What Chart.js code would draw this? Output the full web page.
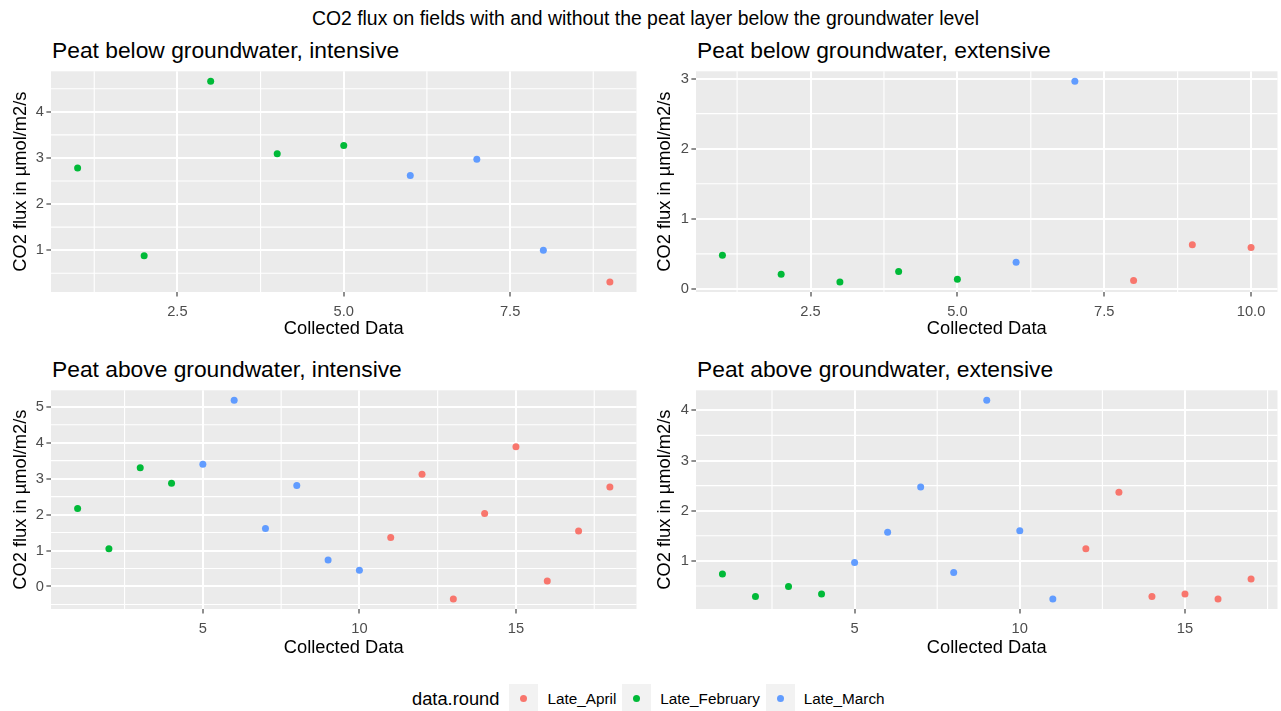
<!DOCTYPE html>
<html>
<head>
<meta charset="utf-8">
<title>CO2 flux</title>
<script src="https://cdn.jsdelivr.net/npm/chart.js@4.4.1/dist/chart.umd.min.js"></script>
<style>
  html, body { margin: 0; padding: 0; background: #fff; }
  body { width: 1281px; height: 711px; position: relative; overflow: hidden;
         font-family: "Liberation Sans", Arial, sans-serif; color: #000; }
  canvas { position: absolute; }
  .main-title { position: absolute; left: 5px; width: 1281px; top: 7px; text-align: center;
                font-size: 19.4px; line-height: 22px; white-space: nowrap; }
  .panel-title { position: absolute; font-size: 22.8px; line-height: 26px; white-space: nowrap; }
  .legend { position: absolute; left: 412px; top: 684px; height: 29px; display: flex; align-items: center; }
  .legend .ttl { font-size: 18.3px; margin-right: 10px; }
  .legend .key { width: 29px; height: 29px; background: #F2F2F2; position: relative; }
  .legend .key i { position: absolute; left: 11px; top: 11px; width: 7px; height: 7px; border-radius: 50%; }
  .legend .lab { font-size: 15.3px; margin-left: 9px; margin-right: 6px; }
</style>
</head>
<body>
<div class="main-title">CO2 flux on fields with and without the peat layer below the groundwater level</div>
<div class="panel-title" style="left:52px;top:37px">Peat below groundwater, intensive</div>
<div class="panel-title" style="left:697px;top:37px">Peat below groundwater, extensive</div>
<div class="panel-title" style="left:52px;top:356px">Peat above groundwater, intensive</div>
<div class="panel-title" style="left:697px;top:356px">Peat above groundwater, extensive</div>
<canvas id="belowIntensive" width="640" height="290" style="left:0;top:60px"></canvas>
<canvas id="belowExtensive" width="641" height="290" style="left:640px;top:60px"></canvas>
<canvas id="aboveIntensive" width="640" height="290" style="left:0;top:379px"></canvas>
<canvas id="aboveExtensive" width="641" height="290" style="left:640px;top:379px"></canvas>
<div class="legend" id="legend"></div>
<script>
// sampling rounds and their ggplot hue colours
const roundNames = ['Late_April', 'Late_February', 'Late_March'];
const roundColors = ['#F8766D', '#00BA38', '#619CFF'];

// Peat below groundwater, intensive
const belowIntensiveFlux = [2.78, 0.88, 4.66, 3.09, 3.27, 2.62, 2.97, 1.00, 0.31];
const belowIntensiveRound = ['Late_February', 'Late_February', 'Late_February', 'Late_February', 'Late_February',
  'Late_March', 'Late_March', 'Late_March', 'Late_April'];
const belowIntensiveXTicks = [2.5, 5, 7.5];
const belowIntensiveYTicks = [1, 2, 3, 4];

// Peat below groundwater, extensive
const belowExtensiveFlux = [0.48, 0.21, 0.10, 0.25, 0.14, 0.38, 2.96, 0.12, 0.63, 0.59];
const belowExtensiveRound = ['Late_February', 'Late_February', 'Late_February', 'Late_February', 'Late_February',
  'Late_March', 'Late_March', 'Late_April', 'Late_April', 'Late_April'];
const belowExtensiveXTicks = [2.5, 5, 7.5, 10];
const belowExtensiveYTicks = [0, 1, 2, 3];

// Peat above groundwater, intensive
const aboveIntensiveFlux = [2.17, 1.05, 3.30, 2.87, 3.40, 5.18, 1.61, 2.81, 0.74, 0.45,
  1.36, 3.12, -0.35, 2.03, 3.89, 0.15, 1.54, 2.77];
const aboveIntensiveRound = ['Late_February', 'Late_February', 'Late_February', 'Late_February',
  'Late_March', 'Late_March', 'Late_March', 'Late_March', 'Late_March', 'Late_March',
  'Late_April', 'Late_April', 'Late_April', 'Late_April', 'Late_April', 'Late_April', 'Late_April', 'Late_April'];
const aboveIntensiveXTicks = [5, 10, 15];
const aboveIntensiveYTicks = [0, 1, 2, 3, 4, 5];

// Peat above groundwater, extensive
const aboveExtensiveFlux = [0.74, 0.29, 0.49, 0.34, 0.97, 1.57, 2.47, 0.77, 4.20, 1.60, 0.24,
  1.24, 2.37, 0.29, 0.34, 0.24, 0.64];
const aboveExtensiveRound = ['Late_February', 'Late_February', 'Late_February', 'Late_February',
  'Late_March', 'Late_March', 'Late_March', 'Late_March', 'Late_March', 'Late_March', 'Late_March',
  'Late_April', 'Late_April', 'Late_April', 'Late_April', 'Late_April', 'Late_April'];
const aboveExtensiveXTicks = [5, 10, 15];
const aboveExtensiveYTicks = [1, 2, 3, 4];

Chart.defaults.font.family = '"Liberation Sans", Arial, sans-serif';

// minor breaks sit halfway between the major ones, like ggplot
function minorBreaks(scale) {
  const t = scale.ticks.map(k => k.value);
  const step = t[1] - t[0];
  const out = [];
  for (let v = t[0] - step / 2; v <= scale.max; v += step) {
    if (v >= scale.min) out.push(v);
  }
  return out;
}

// grey panel and thin minor grid, drawn before the major grid
const panelBackground = {
  id: 'panelBackground',
  beforeDraw(chart) {
    const { ctx, chartArea: a, scales: { x, y } } = chart;
    ctx.save();
    ctx.fillStyle = '#EBEBEB';
    ctx.fillRect(a.left, a.top, a.right - a.left, a.bottom - a.top);
    ctx.strokeStyle = '#FFFFFF';
    ctx.lineWidth = 1.1;
    ctx.beginPath();
    minorBreaks(x).forEach(v => {
      const px = x.getPixelForValue(v);
      ctx.moveTo(px, a.top);
      ctx.lineTo(px, a.bottom);
    });
    minorBreaks(y).forEach(v => {
      const py = y.getPixelForValue(v);
      ctx.moveTo(a.left, py);
      ctx.lineTo(a.right, py);
    });
    ctx.stroke();
    ctx.restore();
  }
};

// ggplot adds 5% on each side of the data range
function expandRange(lo, hi) {
  const pad = (hi - lo) * 0.05;
  return [lo - pad, hi + pad];
}

function makePanel(id, flux, rounds, xTicks, yTicks, geom) {
  const xs = flux.map((v, i) => i + 1);
  const [xMin, xMax] = expandRange(Math.min(...xs), Math.max(...xs));
  const [yMin, yMax] = expandRange(Math.min(...flux), Math.max(...flux));
  const xDec = xTicks.some(v => !Number.isInteger(v)) ? 1 : 0;
  const yDec = yTicks.some(v => !Number.isInteger(v)) ? 1 : 0;

  const datasets = roundNames.map((name, k) => ({
    label: name,
    data: flux.map((v, i) => ({ x: i + 1, y: v })).filter((p, i) => rounds[i] === name),
    pointBackgroundColor: roundColors[k],
    pointBorderColor: roundColors[k],
    pointBorderWidth: 0,
    pointRadius: 3.5,
    pointHoverRadius: 3.5,
    showLine: false
  }));

  const tickFont = { size: 14.7 };
  const gridOpts = { color: '#FFFFFF', lineWidth: 2, tickColor: '#333333', tickLength: 4.6, tickWidth: 1.1 };

  new Chart(document.getElementById(id), {
    type: 'scatter',
    data: { datasets },
    plugins: [panelBackground],
    options: {
      responsive: false,
      animation: false,
      devicePixelRatio: 1,
      layout: { padding: { top: 10, right: geom.padRight, left: 0, bottom: 0 } },
      plugins: { legend: { display: false }, tooltip: { enabled: false } },
      scales: {
        x: {
          type: 'linear', bounds: 'data', min: xMin, max: xMax,
          afterBuildTicks: s => { s.ticks = xTicks.map(v => ({ value: v })); },
          afterFit: s => { s.height = geom.axisH; },
          ticks: { color: '#4D4D4D', font: tickFont, padding: 7, maxRotation: 0, autoSkip: false,
                   callback: v => Number(v).toFixed(xDec) },
          grid: gridOpts,
          border: { display: false },
          title: { display: true, text: 'Collected Data', color: '#000000',
                   font: { size: 18.3 }, padding: { top: 0, bottom: 10 } }
        },
        y: {
          type: 'linear', bounds: 'data', min: yMin, max: yMax,
          afterBuildTicks: s => { s.ticks = yTicks.map(v => ({ value: v })); },
          afterFit: s => { s.width = geom.axisW; },
          ticks: { color: '#4D4D4D', font: tickFont, padding: 2.5, autoSkip: false,
                   callback: v => Number(v).toFixed(yDec) },
          grid: gridOpts,
          border: { display: false },
          title: { display: true, text: 'CO2 flux in µmol/m2/s', color: '#000000',
                   font: { size: 18.3 }, padding: { top: geom.titlePad, bottom: 0 } }
        }
      }
    }
  });
}

makePanel('belowIntensive', belowIntensiveFlux, belowIntensiveRound, belowIntensiveXTicks, belowIntensiveYTicks,
  { axisW: 51, axisH: 58, padRight: 3, titlePad: 10 });
makePanel('belowExtensive', belowExtensiveFlux, belowExtensiveRound, belowExtensiveXTicks, belowExtensiveYTicks,
  { axisW: 56, axisH: 58, padRight: 1, titlePad: 14 });
makePanel('aboveIntensive', aboveIntensiveFlux, aboveIntensiveRound, aboveIntensiveXTicks, aboveIntensiveYTicks,
  { axisW: 51, axisH: 60, padRight: 3, titlePad: 10 });
makePanel('aboveExtensive', aboveExtensiveFlux, aboveExtensiveRound, aboveExtensiveXTicks, aboveExtensiveYTicks,
  { axisW: 56, axisH: 60, padRight: 1, titlePad: 14 });

// shared legend at the bottom
const legend = document.getElementById('legend');
legend.innerHTML = '<span class="ttl">data.round</span>' + roundNames.map((name, k) =>
  `<span class="key"><i style="background:${roundColors[k]}"></i></span><span class="lab">${name}</span>`).join('');
</script>
</body>
</html>
